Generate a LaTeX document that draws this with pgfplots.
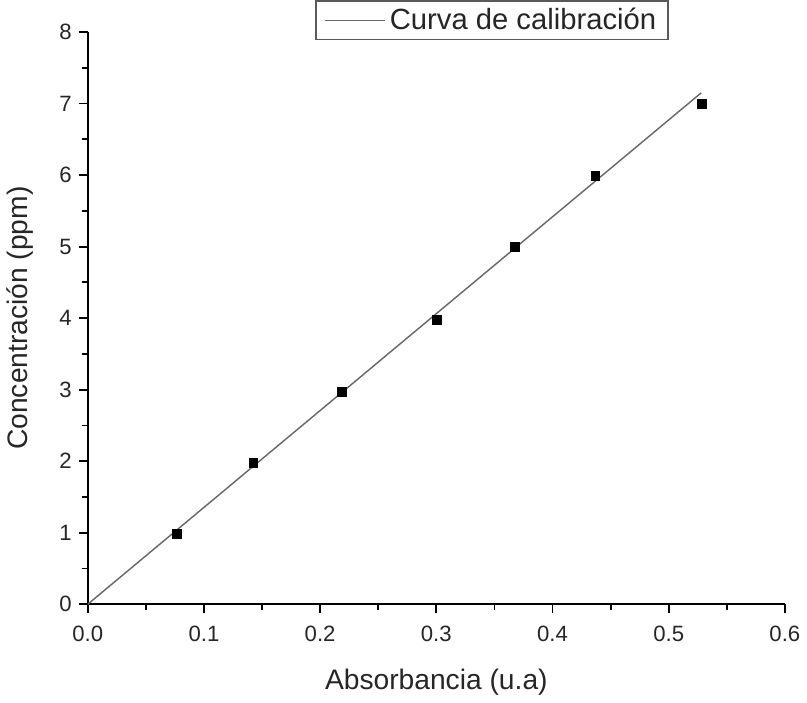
\documentclass[border=0pt]{standalone}
\usepackage{pgfplots}
\pgfplotsset{compat=1.18}
\usepackage{fontspec}
\setmainfont{Liberation Sans}
\begin{document}
\begin{tikzpicture}
\begin{axis}[
  scale only axis,
  width=346pt, height=284pt,
  xmin=0, xmax=0.6, ymin=0, ymax=8,
  axis lines*=left,
  axis line style={line width=0.9pt},
  xtick={0,0.1,...,0.6}, ytick={0,1,...,8},
  minor x tick num=1, minor y tick num=1,
  tick align=outside,
  major tick length=4.5pt, minor tick length=3pt,
  tick style={black, line width=0.9pt},
  xticklabel style={/pgf/number format/fixed, /pgf/number format/fixed zerofill, /pgf/number format/precision=1, yshift=-3pt},
  /pgf/number format/assume math mode=true,
  tick label style={font=\fontsize{11}{13}\selectfont, text=black!85},
  label style={font=\fontsize{14}{16}\selectfont, text=black!85},
  xlabel={Absorbancia (u.a)},
  ylabel={Concentración (ppm)},
  xlabel style={yshift=-6.5pt},
  ylabel style={yshift=6pt},
  clip=false,
  legend style={at={(0.58,1.056)}, anchor=north, draw=gray!70!black, line width=0.9pt,
    font=\fontsize{14.5}{16}\selectfont, inner xsep=4pt, inner ysep=1.5pt, text=black!85},
  legend cell align=left,
  legend image code/.code={\draw[#1] (0pt,0pt) -- (30pt,0pt);},
  legend image post style={gray!80!black},
]
\addplot[gray!80!black, line width=0.7pt] coordinates {(0,0) (0.528,7.15)};
\addlegendentry{Curva de calibración}
\addplot[only marks, mark=square*, mark size=2.2pt, black, forget plot] coordinates {
(0.0764,0.98) (0.1425,1.98) (0.2189,2.97) (0.3004,3.98) (0.3674,5.0) (0.4369,5.99) (0.5288,7.0)};
\end{axis}
\end{tikzpicture}
\end{document}
